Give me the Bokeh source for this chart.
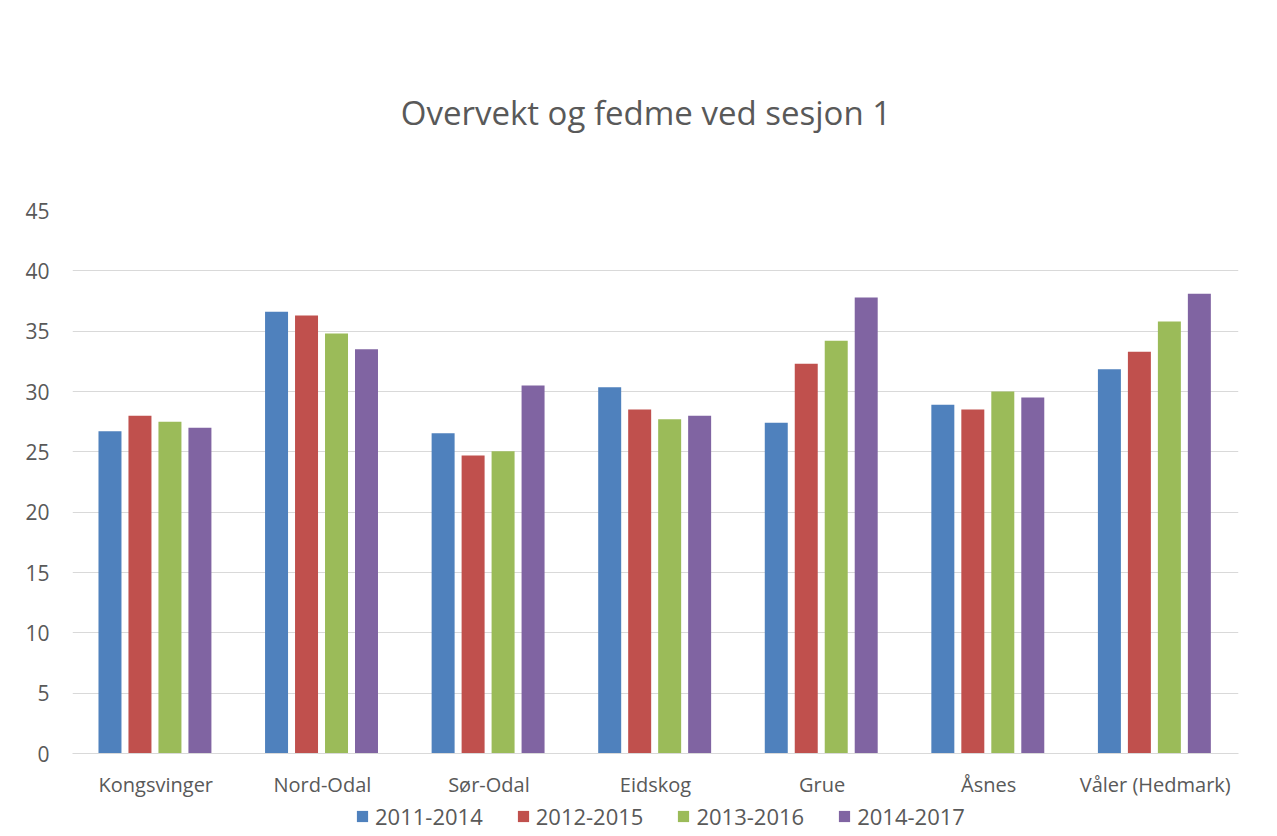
from bokeh.plotting import figure
from bokeh.layouts import column
from bokeh.models import FactorRange, Range1d, Legend, LegendItem, FixedTicker, ColumnDataSource, Label
from bokeh.transform import dodge
from bokeh.embed import file_html
from bokeh.resources import INLINE

categories = ["Kongsvinger", "Nord-Odal", "Sør-Odal", "Eidskog", "Grue", "Åsnes", "Våler (Hedmark)"]
series_names = ["2011-2014", "2012-2015", "2013-2016", "2014-2017"]
s2011_2014 = [26.7, 36.6, 26.55, 30.35, 27.4, 28.9, 31.85]
s2012_2015 = [28.0, 36.3, 24.7, 28.5, 32.3, 28.5, 33.3]
s2013_2016 = [27.5, 34.8, 25.05, 27.7, 34.2, 30.0, 35.8]
s2014_2017 = [27.0, 33.5, 30.5, 28.0, 37.8, 29.5, 38.1]
y_ticks = [0, 5, 10, 15, 20, 25, 30, 35, 40, 45]
title_text = "Overvekt og fedme ved sesjon 1"

colors = ["#4F81BD", "#C0504D", "#9BBB59", "#8064A2"]
TXT = "#595959"
FONT = "Open Sans"
W = 1277


def bare(fig):
    fig.outline_line_color = None
    fig.xgrid.grid_line_color = None
    fig.ygrid.grid_line_color = None
    return fig


# --- title strip ---
t = bare(figure(width=W, height=170, output_backend="svg", toolbar_location=None,
                x_range=Range1d(0, W), y_range=Range1d(170, 0),
                x_axis_type=None, y_axis_type=None, min_border=0))
t.add_layout(Label(x=628, y=112, text=title_text, text_font=FONT, text_font_size="33px",
                   text_color=TXT, text_align="center", text_baseline="middle"))

# --- main chart ---
source = ColumnDataSource(dict(cat=categories, a=s2011_2014, b=s2012_2015, c=s2013_2016, d=s2014_2017))

p = figure(width=W, height=630, output_backend="svg", toolbar_location=None,
           x_range=FactorRange(*categories, range_padding=0), y_range=Range1d(0, 45),
           min_border_left=72, min_border_right=39, min_border_top=40, min_border_bottom=46)

offsets = [-0.275, -0.095, 0.085, 0.265]
for key, off, col in zip(["a", "b", "c", "d"], offsets, colors):
    p.vbar(x=dodge("cat", off, range=p.x_range), top=key, width=0.138, source=source,
           fill_color=col, line_color=None)

p.outline_line_color = None
p.xgrid.grid_line_color = None
p.ygrid.grid_line_color = "#D9D9D9"
p.ygrid.grid_line_width = 1

p.yaxis.ticker = FixedTicker(ticks=y_ticks)
p.yaxis.axis_line_color = None
p.yaxis.major_tick_line_color = None
p.yaxis.minor_tick_line_color = None
p.yaxis.major_label_text_color = TXT
p.yaxis.major_label_text_font = FONT
p.yaxis.major_label_text_font_size = "21px"
p.yaxis.major_label_standoff = 17

p.xaxis.axis_line_color = "#D9D9D9"
p.xaxis.major_tick_line_color = None
p.xaxis.minor_tick_line_color = None
p.xaxis.major_label_text_color = TXT
p.xaxis.major_label_text_font = FONT
p.xaxis.major_label_text_font_size = "20px"
p.xaxis.major_label_standoff = 11

# --- legend strip ---
q = bare(figure(width=W, height=36, output_backend="svg", toolbar_location=None,
                x_range=Range1d(0, 1), y_range=Range1d(0, 1),
                x_axis_type=None, y_axis_type=None, min_border=0))
dummies = []
for col in colors:
    dummies.append(q.vbar(x=[-5], top=[-5], width=0.1, fill_color=col, line_color=None))
legend = Legend(items=[LegendItem(label=n, renderers=[r]) for n, r in zip(series_names, dummies)],
                orientation="horizontal", location=(283, 5),
                label_text_font=FONT, label_text_font_size="22px", label_text_color=TXT,
                glyph_width=14, glyph_height=14, label_standoff=6, spacing=33,
                border_line_color=None, background_fill_alpha=0, padding=0, margin=0)
q.add_layout(legend, "center")

open("out.html", "w").write(file_html(column(t, p, q, spacing=0), INLINE))
